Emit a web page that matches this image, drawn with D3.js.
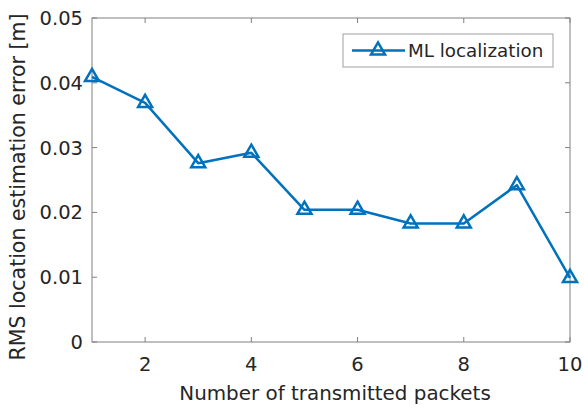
<!DOCTYPE html>
<html>
<head>
<meta charset="utf-8">
<script src="https://cdn.jsdelivr.net/npm/d3@7"></script>
<style>
  body { margin: 0; background: #fff; }
  text { font-family: "DejaVu Sans", sans-serif; fill: #262626; }
</style>
</head>
<body>
<svg id="chart"></svg>
<script>
// data
const packets = [1, 2, 3, 4, 5, 6, 7, 8, 9, 10];
const rmsError = [0.0409, 0.0369, 0.0276, 0.0292, 0.0204, 0.0204, 0.0183, 0.0183, 0.0242, 0.0099];
const xTicks = [2, 4, 6, 8, 10];
const yTicks = [0, 0.01, 0.02, 0.03, 0.04, 0.05];
const seriesName = "ML localization";

const width = 584, height = 408;
const margin = { left: 92, right: 14, top: 18, bottom: 66 };
const blue = "#0072BD";
const axisGray = "#808080";

const svg = d3.select("#chart")
    .attr("width", width)
    .attr("height", height);

const x = d3.scaleLinear().domain([1, 10]).range([margin.left, width - margin.right]);
const y = d3.scaleLinear().domain([0, 0.05]).range([height - margin.bottom, margin.top]);

const x0 = x.range()[0], x1 = x.range()[1];
const y0 = y.range()[0], y1 = y.range()[1];

// box
svg.append("rect")
    .attr("x", x0).attr("y", y1)
    .attr("width", x1 - x0).attr("height", y0 - y1)
    .attr("fill", "none")
    .attr("stroke", axisGray)
    .attr("stroke-width", 1);

// ticks pointing inward on all four sides
const tickLen = 5;
const tg = svg.append("g").attr("stroke", axisGray).attr("stroke-width", 1);
xTicks.forEach(t => {
    tg.append("line").attr("x1", x(t)).attr("x2", x(t)).attr("y1", y0).attr("y2", y0 - tickLen);
    tg.append("line").attr("x1", x(t)).attr("x2", x(t)).attr("y1", y1).attr("y2", y1 + tickLen);
});
yTicks.forEach(t => {
    tg.append("line").attr("x1", x0).attr("x2", x0 + tickLen).attr("y1", y(t)).attr("y2", y(t));
    tg.append("line").attr("x1", x1).attr("x2", x1 - tickLen).attr("y1", y(t)).attr("y2", y(t));
});

// tick labels
svg.append("g").selectAll("text")
    .data(xTicks)
    .enter().append("text")
    .attr("x", d => x(d))
    .attr("y", y0 + 29)
    .attr("text-anchor", "middle")
    .style("font-size", "19.5px")
    .text(d => d);

svg.append("g").selectAll("text")
    .data(yTicks)
    .enter().append("text")
    .attr("x", x0 - 9)
    .attr("y", d => y(d))
    .attr("dy", "0.36em")
    .attr("text-anchor", "end")
    .style("font-size", "19.5px")
    .text(d => d === 0 ? "0" : d3.format(".2f")(d));

// axis titles
svg.append("text")
    .attr("x", 335)
    .attr("y", 400)
    .attr("text-anchor", "middle")
    .style("font-size", "19.9px")
    .text("Number of transmitted packets");

svg.append("text")
    .attr("transform", "translate(25,187) rotate(-90)")
    .attr("text-anchor", "middle")
    .style("font-size", "20.5px")
    .text("RMS location estimation error [m]");

// series
const points = packets.map((p, i) => ({ p: p, v: rmsError[i] }));

const line = d3.line().x(d => x(d.p)).y(d => y(d.v));

svg.append("path")
    .datum(points)
    .attr("d", line)
    .attr("fill", "none")
    .attr("stroke", blue)
    .attr("stroke-width", 2.5)
    .attr("stroke-linejoin", "round");

const tri = d3.symbol().type(d3.symbolTriangle).size(85);

svg.append("g").selectAll("path")
    .data(points)
    .enter().append("path")
    .attr("d", tri)
    .attr("transform", d => `translate(${x(d.p)},${y(d.v)})`)
    .attr("fill", "none")
    .attr("stroke", blue)
    .attr("stroke-width", 2.5);

// legend
const lg = svg.append("g");
lg.append("rect")
    .attr("x", 343).attr("y", 34)
    .attr("width", 210).attr("height", 33)
    .attr("fill", "#fff")
    .attr("stroke", "#a0a0a0")
    .attr("stroke-width", 1);
lg.append("line")
    .attr("x1", 352).attr("x2", 405)
    .attr("y1", 50.5).attr("y2", 50.5)
    .attr("stroke", blue).attr("stroke-width", 2.5);
lg.append("path")
    .attr("d", tri)
    .attr("transform", "translate(378,50.5)")
    .attr("fill", "none")
    .attr("stroke", blue).attr("stroke-width", 2.5);
lg.append("text")
    .attr("x", 408).attr("y", 50.5)
    .attr("dy", "0.36em")
    .style("font-size", "18.3px")
    .text(seriesName);
</script>
</body>
</html>
